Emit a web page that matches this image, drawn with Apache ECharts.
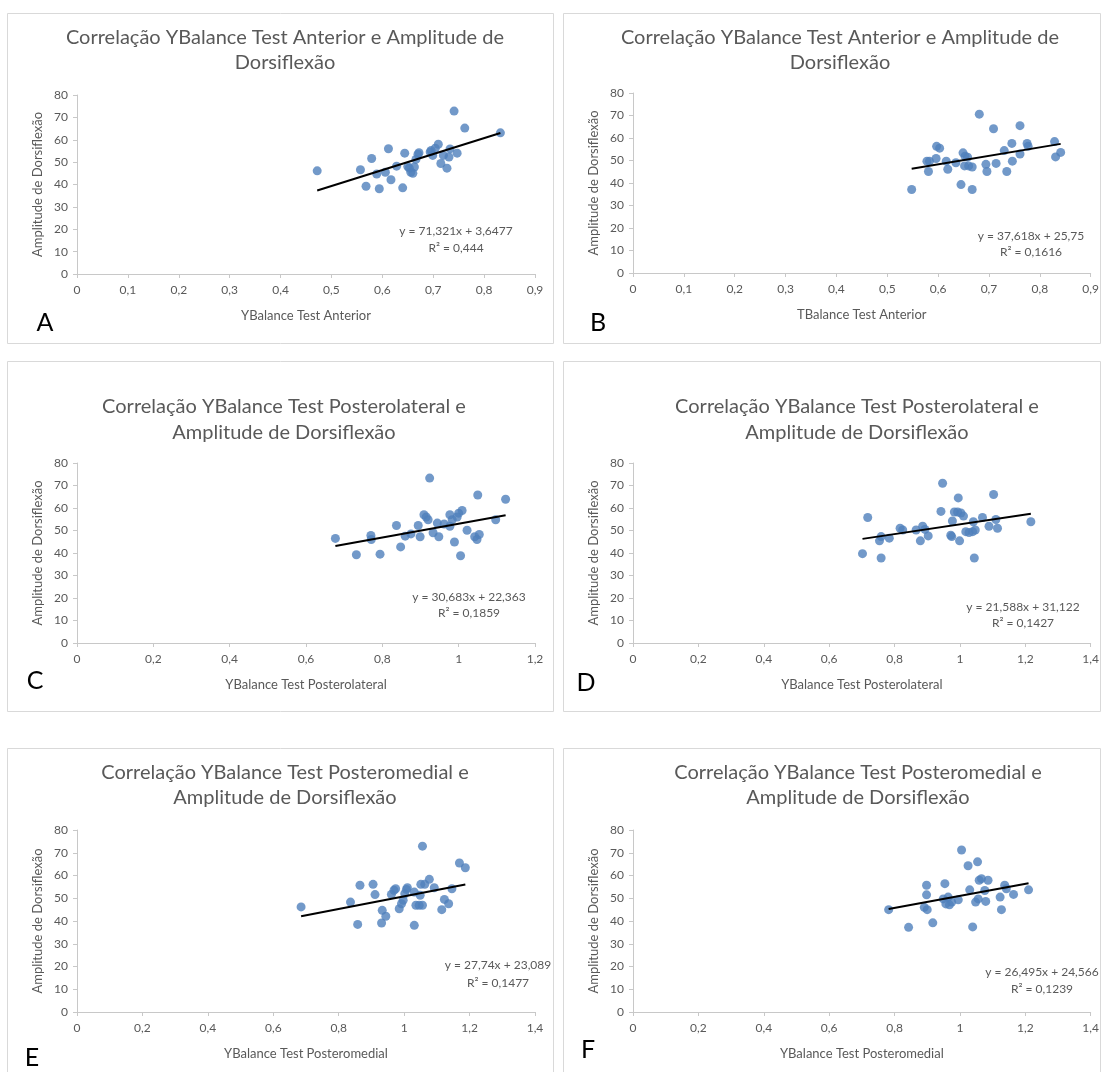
<!DOCTYPE html>
<html>
<head>
<meta charset="utf-8">
<script src="https://cdn.jsdelivr.net/npm/echarts@6/dist/echarts.min.js"></script>
<style>
html,body{margin:0;padding:0;background:#fff;}
#chart{width:1102px;height:1072px;}
</style>
</head>
<body>
<div id="chart"></div>
<script>
// ---- data ----
const aX = [0.472,0.557,0.568,0.579,0.589,0.594,0.606,0.612,0.617,0.628,0.640,0.644,0.650,0.653,0.656,0.660,0.663,0.666,0.670,0.672,0.694,0.696,0.699,0.704,0.710,0.715,0.720,0.727,0.731,0.733,0.741,0.747,0.762,0.832];
const aY = [46.1,46.6,39.2,51.6,44.7,38.1,45.5,56.0,42.1,48.2,38.5,54.0,48.0,47.3,45.5,45.0,47.8,51.2,53.5,54.2,54.5,55.2,53.0,56.2,58.0,49.4,53.0,47.3,52.3,55.9,72.8,54.0,65.2,63.1];

const bX = [0.548,0.578,0.581,0.583,0.596,0.597,0.603,0.616,0.619,0.635,0.645,0.649,0.652,0.653,0.658,0.660,0.667,0.667,0.681,0.694,0.696,0.709,0.714,0.730,0.735,0.745,0.746,0.761,0.761,0.775,0.777,0.829,0.831,0.841];
const bY = [37.1,49.7,45.1,49.7,50.9,56.3,55.5,49.7,46.1,49.0,39.3,53.4,47.6,51.9,51.5,47.6,47.1,37.1,70.6,48.3,45.1,64.1,48.7,54.4,45.1,57.6,49.7,65.5,52.9,57.6,56.3,58.4,51.6,53.6];

const cX = [0.677,0.732,0.770,0.771,0.794,0.837,0.848,0.860,0.875,0.894,0.899,0.909,0.915,0.920,0.924,0.933,0.944,0.948,0.962,0.977,0.977,0.983,0.989,0.996,1.000,1.005,1.009,1.022,1.042,1.048,1.050,1.054,1.097,1.123];
const cY = [46.5,39.2,47.8,46.0,39.5,52.2,42.7,47.5,48.5,52.2,47.2,57.0,56.0,54.8,73.3,49.0,53.3,47.2,52.9,57.0,51.9,54.8,44.9,56.0,57.7,38.8,58.9,50.1,47.2,46.0,65.8,48.2,54.8,63.9];

const dX = [0.702,0.718,0.754,0.759,0.759,0.784,0.817,0.825,0.866,0.879,0.886,0.893,0.903,0.942,0.947,0.972,0.975,0.977,0.983,0.993,0.995,0.999,1.003,1.011,1.018,1.028,1.039,1.041,1.044,1.047,1.069,1.089,1.103,1.110,1.115,1.217];
const dY = [39.7,55.8,45.4,47.3,37.8,46.6,51.0,50.2,50.2,45.4,51.9,50.5,47.6,58.5,71.0,47.9,47.3,54.2,58.2,58.2,64.5,45.4,57.8,56.4,49.5,49.1,49.5,53.9,37.8,50.2,55.8,51.9,66.0,54.9,51.0,53.9];

const eX = [0.685,0.836,0.858,0.865,0.905,0.911,0.931,0.933,0.944,0.961,0.969,0.974,0.985,0.992,0.997,1.002,1.007,1.010,1.031,1.031,1.036,1.046,1.049,1.051,1.056,1.056,1.063,1.077,1.092,1.115,1.123,1.136,1.146,1.169,1.187];
const eY = [46.2,48.3,38.5,55.7,56.1,51.6,39.1,44.7,42.1,51.7,53.5,54.2,45.4,47.6,49.1,52.0,53.9,54.6,38.1,52.7,46.9,46.9,51.3,56.1,72.9,46.9,56.1,58.3,54.6,45.0,49.5,47.6,54.2,65.5,63.4];

const fX = [0.782,0.843,0.891,0.898,0.898,0.900,0.917,0.949,0.954,0.957,0.964,0.968,0.975,0.995,1.005,1.025,1.030,1.039,1.048,1.054,1.056,1.059,1.066,1.076,1.079,1.086,1.123,1.127,1.137,1.142,1.164,1.210];
const fY = [45.0,37.2,46.0,55.7,51.5,45.0,39.2,49.7,56.4,47.5,50.5,47.1,48.3,49.3,71.2,64.3,53.7,37.4,48.3,66.0,49.7,57.9,58.6,53.4,48.6,57.9,50.5,45.0,55.7,54.2,51.7,53.7];

const slopes = [71.321, 37.618, 30.683, 21.588, 27.74, 26.495];
const intercepts = [3.6477, 25.75, 22.363, 31.122, 23.089, 24.566];
const eqTexts = ['y = 71,321x + 3,6477','y = 37,618x + 25,75','y = 30,683x + 22,363','y = 21,588x + 31,122','y = 27,74x + 23,089','y = 26,495x + 24,566'];
const r2Texts = ['R² = 0,444','R² = 0,1616','R² = 0,1859','R² = 0,1427','R² = 0,1477','R² = 0,1239'];

const titleLine1 = ['Correlação YBalance Test Anterior e Amplitude de','Correlação YBalance Test Anterior e Amplitude de','Correlação YBalance Test Posterolateral e','Correlação YBalance Test Posterolateral e','Correlação YBalance Test Posteromedial e','Correlação YBalance Test Posteromedial e'];
const titleLine2 = ['Dorsiflexão','Dorsiflexão','Amplitude de Dorsiflexão','Amplitude de Dorsiflexão','Amplitude de Dorsiflexão','Amplitude de Dorsiflexão'];
const xNames = ['YBalance Test Anterior','TBalance Test Anterior','YBalance Test Posterolateral','YBalance Test Posterolateral','YBalance Test Posteromedial','YBalance Test Posteromedial'];
const yName = 'Amplitude de Dorsiflexão';
const panelLetters = ['A','B','C','D','E','F'];
const xMax = [0.9, 0.9, 1.2, 1.4, 1.4, 1.4];
const xStep = [0.1, 0.1, 0.2, 0.2, 0.2, 0.2];
const yMax = 80, yStep = 10;

// ---- layout ----
const xsAll = [aX,bX,cX,dX,eX,fX];
const ysAll = [aY,bY,cY,dY,eY,fY];
const grids = [
  {left:77, top:95, width:458, height:179},
  {left:633, top:93, width:459, height:180},
  {left:77, top:463, width:458, height:180},
  {left:633, top:463, width:459, height:180},
  {left:77, top:830, width:458, height:182},
  {left:633, top:830, width:459, height:182}
];
const boxes = [
  {x:7,y:13,w:546,h:330},{x:563,y:13,w:537,h:330},
  {x:7,y:361,w:546,h:350},{x:563,y:361,w:537,h:350},
  {x:7,y:748,w:546,h:330},{x:563,y:748,w:537,h:330}
];
const titlePos = [[285,38,63],[840,38,63],[284,407,433],[857,407,433],[285,773,798],[858,773,798]];
const eqPos = [[456,231,248],[1031,236,252],[469,597,613],[1023,607,623],[498,965,983],[1042,972,989]];
const letterPos = [[45,323],[598,323],[35,681],[586,683],[32,1058],[588,1050]];

const gray = '#595959';
const axisGray = '#c8c8c8';
const font = 'Lato, "Open Sans", sans-serif';
const fmt = v => String(Number(v.toFixed(2))).replace('.', ',');

const xAxis = [], yAxis = [], series = [], graphic = [];
for (let i = 0; i < 6; i++) {
  xAxis.push({
    type:'value', gridIndex:i, min:0, max:xMax[i], interval:xStep[i],
    name:xNames[i], nameLocation:'middle', nameGap:35,
    nameTextStyle:{color:gray, fontSize:13, fontFamily:font},
    axisLine:{show:true, onZero:false, lineStyle:{color:axisGray}},
    axisTick:{show:true, length:4, lineStyle:{color:axisGray}},
    axisLabel:{color:gray, fontSize:12, fontFamily:font, margin:10, formatter:fmt},
    splitLine:{show:false}
  });
  yAxis.push({
    type:'value', gridIndex:i, min:0, max:yMax, interval:yStep,
    name:yName, nameLocation:'middle', nameGap:33, nameRotate:90,
    nameTextStyle:{color:gray, fontSize:13, fontFamily:font},
    axisLine:{show:true, lineStyle:{color:axisGray}},
    axisTick:{show:true, length:4, lineStyle:{color:axisGray}},
    axisLabel:{color:gray, fontSize:12, fontFamily:font, margin:9},
    splitLine:{show:false}
  });
  const pts = xsAll[i].map((x, k) => [x, ysAll[i][k]]);
  series.push({
    type:'scatter', xAxisIndex:i, yAxisIndex:i, data:pts,
    symbolSize:9, itemStyle:{color:'#4f7fbb'}, z:2
  });
  const x0 = Math.min(...xsAll[i]), x1 = Math.max(...xsAll[i]);
  series.push({
    type:'line', xAxisIndex:i, yAxisIndex:i, symbol:'none',
    data:[[x0, slopes[i]*x0 + intercepts[i]],[x1, slopes[i]*x1 + intercepts[i]]],
    lineStyle:{color:'#000', width:2}, z:3, silent:true
  });
  const b = boxes[i];
  graphic.push({type:'rect', shape:{x:b.x+0.5, y:b.y+0.5, width:b.w, height:b.h},
    style:{fill:'none', stroke:'#d9d9d9', lineWidth:1}, silent:true, z:-1});
  const t = titlePos[i];
  graphic.push({type:'text', x:t[0], y:t[1], style:{text:titleLine1[i], fill:gray, font:'20px '+font, textAlign:'center', textVerticalAlign:'middle'}});
  graphic.push({type:'text', x:t[0], y:t[2], style:{text:titleLine2[i], fill:gray, font:'20px '+font, textAlign:'center', textVerticalAlign:'middle'}});
  const e = eqPos[i];
  graphic.push({type:'text', x:e[0], y:e[1], style:{text:eqTexts[i], fill:gray, font:'12px '+font, textAlign:'center', textVerticalAlign:'middle'}});
  graphic.push({type:'text', x:e[0], y:e[2], style:{text:r2Texts[i], fill:gray, font:'12px '+font, textAlign:'center', textVerticalAlign:'middle'}});
  const l = letterPos[i];
  graphic.push({type:'text', x:l[0], y:l[1], style:{text:panelLetters[i], fill:'#000', font:'25px '+font, textAlign:'center', textVerticalAlign:'middle'}});
}

const chart = echarts.init(document.getElementById('chart'), null, {renderer:'canvas'});
chart.setOption({
  animation:false,
  backgroundColor:'#fff',
  grid:grids,
  xAxis:xAxis,
  yAxis:yAxis,
  series:series,
  graphic:graphic
});
</script>
</body>
</html>
